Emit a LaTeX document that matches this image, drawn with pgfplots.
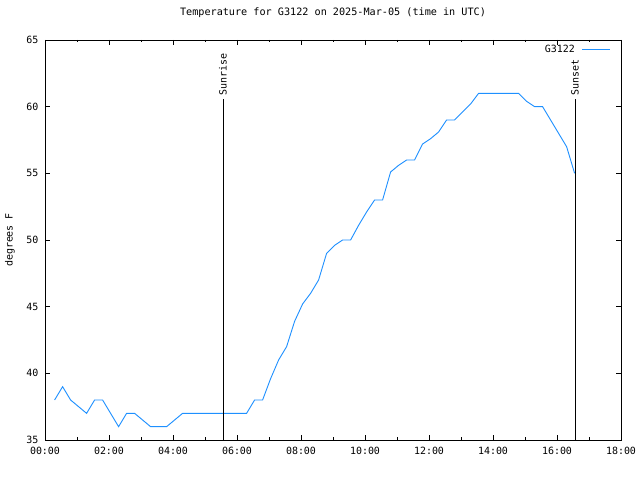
\documentclass[border=0pt]{standalone}
\usepackage{pgfplots}
\pgfplotsset{compat=1.18}
\usepackage{fontspec}
\setmainfont{DejaVu Sans Mono}
\definecolor{tblue}{RGB}{30,144,255}
\begin{document}
\fontsize{10}{12}\selectfont
\begin{tikzpicture}
\useasboundingbox[fill=white] (-45bp,-40bp) rectangle (595bp,440bp);
\begin{axis}[
  at={(0,0)}, anchor=south west,
  scale only axis, width=576bp, height=400bp,
  xmin=0, xmax=18, ymin=35, ymax=65,
  xtick={0,2,...,18},
  xticklabels={00:00,02:00,04:00,06:00,08:00,10:00,12:00,14:00,16:00,18:00},
  minor xtick={1,3,...,17},
  ytick={35,40,...,65},
  /pgf/number format/assume math mode=true,
  tick align=inside,
  major tick length=5bp, minor tick length=2.5bp,
  every tick/.style={black, line width=0.8bp},
  axis line style={black, line width=0.9bp},
  xticklabel style={anchor=center, yshift=-11bp},
  yticklabel style={anchor=east, xshift=-3bp},
  title={Temperature for G3122 on 2025-Mar-05 (time in UTC)},
  title style={at={(axis description cs:0.5,1.0525)}, anchor=center, font=\fontsize{10.2}{12}\selectfont},
  ylabel={degrees F},
  ylabel style={at={(axis description cs:-0.0608,0.5)}, anchor=center},
  legend style={draw=none, fill=none, at={(axis description cs:1,1)}, anchor=north east, xshift=-7bp, yshift=-1bp, font=\fontsize{10}{12}\selectfont,
    /tikz/every odd column/.append style={column sep=5bp}},
  legend cell align=right,
  legend plot pos=right,
  legend image code/.code={\draw[#1] (0bp,0bp) -- (28bp,0bp);},
]
\addplot[tblue, line width=0.9bp] coordinates {
(0.30,38) (0.55,39) (0.80,38) (1.05,37.5) (1.30,37) (1.55,38) (1.80,38)
(2.05,37) (2.30,36) (2.55,37) (2.80,37) (3.05,36.5) (3.30,36) (3.55,36)
(3.80,36) (4.05,36.5) (4.30,37) (4.55,37) (4.80,37) (5.05,37) (5.30,37)
(5.55,37) (5.80,37) (6.05,37) (6.30,37) (6.55,38) (6.80,38) (7.05,39.6)
(7.30,41) (7.55,42) (7.80,43.9) (8.05,45.2) (8.30,46) (8.55,47) (8.80,49)
(9.05,49.6) (9.30,50) (9.55,50) (9.80,51.1) (10.05,52.1) (10.30,53)
(10.55,53) (10.80,55.1) (11.05,55.6) (11.30,56) (11.55,56) (11.80,57.2)
(12.05,57.6) (12.30,58.1) (12.55,59) (12.80,59) (13.05,59.6) (13.30,60.2)
(13.55,61) (13.80,61) (14.05,61) (14.30,61) (14.55,61) (14.80,61)
(15.05,60.4) (15.30,60) (15.55,60) (15.80,59) (16.05,58) (16.30,57)
(16.55,55)
};
\addlegendentry{G3122}
\addplot[black, line width=0.9bp, forget plot] coordinates {(5.5625,35) (5.5625,60.6)};
\addplot[black, line width=0.9bp, forget plot] coordinates {(16.5625,35) (16.5625,60.6)};
\node[rotate=90, anchor=west, inner sep=2.5bp] at (axis cs:5.5625,60.6) {Sunrise};
\node[rotate=90, anchor=west, inner sep=2.5bp] at (axis cs:16.5625,60.6) {Sunset};
\end{axis}
\end{tikzpicture}
\end{document}
